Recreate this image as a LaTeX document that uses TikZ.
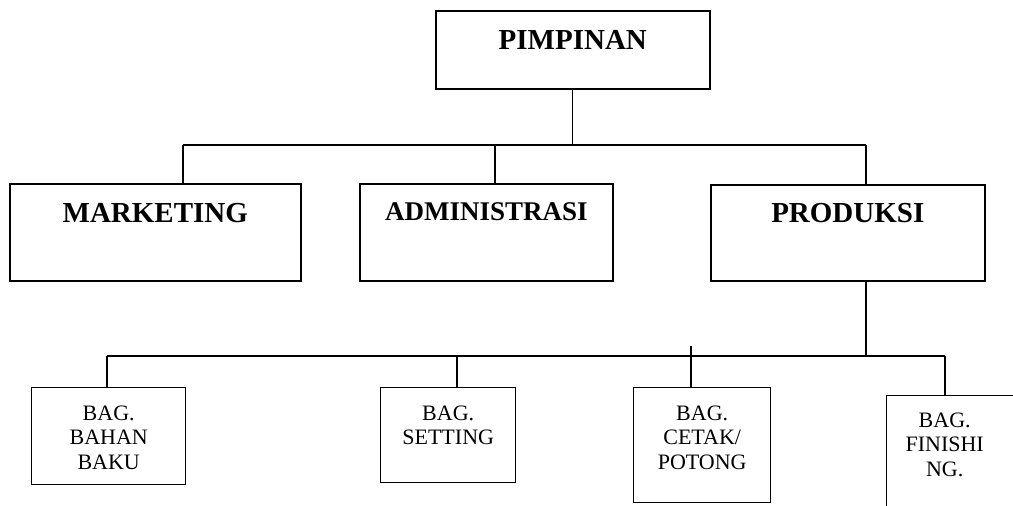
\documentclass[tikz,border=0pt]{standalone}
\usepackage{fontspec}
\setmainfont{Liberation Serif}
\newcommand\boxtext[4]{\parbox[c][#2][t]{#1}{\centering\vspace*{#3}#4}}
\begin{document}
\begin{tikzpicture}[x=1pt, y=-1pt,
    head/.style={draw, line width=1.6pt, inner sep=0pt, anchor=north west, font=\fontsize{29}{30}\selectfont\bfseries},
    sub/.style={draw, line width=1.4pt, inner sep=0pt, anchor=north west, font=\fontsize{22}{24.5}\selectfont},
    link/.style={line width=1.2pt}]
    \useasboundingbox (0,0) rectangle (1013,506);
    \clip (0,0) rectangle (1013,506);
    % top level
    \node[head] (pim) at (435,10) {\boxtext{274pt}{78pt}{20pt}{PIMPINAN}};
    \node[head] (mkt) at (9,183) {\boxtext{291pt}{97pt}{19pt}{MARKETING}};
    \node[head, font=\fontsize{27}{28}\selectfont\bfseries] (adm) at (359,183) {\boxtext{253pt}{97pt}{19pt}{ADMINISTRASI}};
    \node[head] (prd) at (710,184) {\boxtext{274pt}{96pt}{18pt}{PRODUKSI}};
    % bagian produksi
    \node[sub] (bhn) at (31,387) {\boxtext{154pt}{97pt}{18pt}{BAG.\\BAHAN\\BAKU}};
    \node[sub] (set) at (380,387) {\boxtext{135pt}{95pt}{18pt}{BAG.\\SETTING}};
    \node[sub] (ctk) at (633,387) {\boxtext{137pt}{115pt}{18pt}{BAG.\\CETAK/\\POTONG}};
    \node[sub] (fin) at (886,395) {\parbox[c][135pt][t]{150pt}{\vspace*{17pt}\parbox[t]{116pt}{\centering BAG.\\FINISHI\\NG.}}};
    % connectors
    \coordinate (jl) at (183,145); \coordinate (jm) at (495,145); \coordinate (jr) at (866,145);
    \draw[link] (pim.south) -- (pim.south |- jl);
    \draw[link] (jl) -- (jr);
    \draw[link] (jl) -- (jl |- mkt.north);
    \draw[link] (jm) -- (jm |- adm.north);
    \draw[link] (jr) -- (jr |- prd.north);
    \coordinate (kl) at (107,356); \coordinate (ks) at (457,356); \coordinate (kc) at (691,346); \coordinate (kr) at (945,356);
    \draw[link] (prd.south -| jr) -- (kl -| jr);
    \draw[link] (kl) -- (kr);
    \draw[link] (kl) -- (kl |- bhn.north);
    \draw[link] (ks) -- (ks |- set.north);
    \draw[link] (kc) -- (kc |- ctk.north);
    \draw[link] (kr) -- (kr |- fin.north);
\end{tikzpicture}
\end{document}
